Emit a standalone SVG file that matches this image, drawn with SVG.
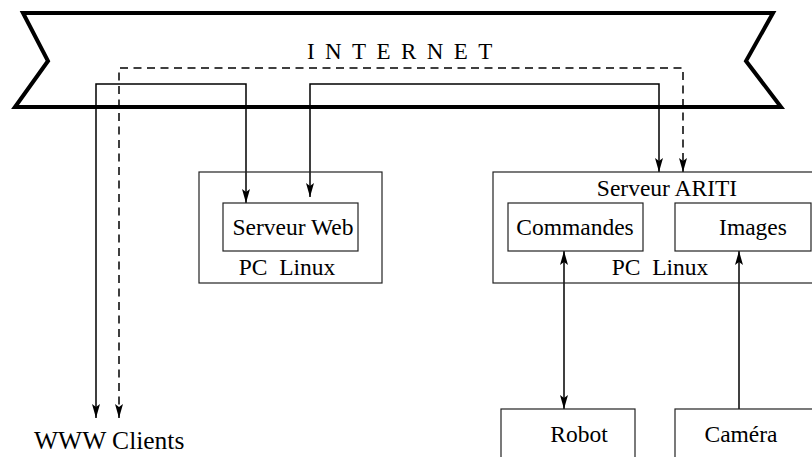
<svg xmlns="http://www.w3.org/2000/svg" width="812" height="457" viewBox="0 0 812 457">
<style>
text{font-family:"Liberation Serif","Times New Roman",serif;fill:#000}
.box{fill:none;stroke:#222;stroke-width:1.2}
.lbl{font-size:23.5px;text-anchor:middle}
.c{fill:none;stroke:#000;stroke-width:1.5}
.d{stroke-dasharray:8,5.5}
</style>
<defs>
<marker id="ah" viewBox="0 0 14 8" refX="14" refY="4" markerWidth="14" markerHeight="8" markerUnits="userSpaceOnUse" orient="auto-start-reverse">
<path d="M0,0 L14,4 L0,8 L3,4 z" fill="#000"/>
</marker>
</defs>
<g id="internet">
<path d="M23,13 L773,13 L746,61 L781,107 L15,107 L48,61 Z" fill="#fff" stroke="#000" stroke-width="4" stroke-linejoin="miter"/>
<text x="307" y="59" style="font-size:23px;letter-spacing:10.4px">INTERNET</text>
</g>
<g id="connectors">
<path class="c d" d="M119,418 L119,68 L683,68 L683,172" marker-start="url(#ah)" marker-end="url(#ah)"/>
<path class="c" d="M96,418 L96,84 L246,84 L246,203" marker-start="url(#ah)" marker-end="url(#ah)"/>
<path class="c" d="M310,197 L310,84 L659,84 L659,172" marker-start="url(#ah)" marker-end="url(#ah)"/>
<path class="c" d="M564,251 L564,409" marker-start="url(#ah)" marker-end="url(#ah)"/>
<path class="c" d="M739,409 L739,251" marker-end="url(#ah)"/>
</g>
<g id="pc-web">
<rect class="box" x="199" y="172" width="183" height="111"/>
<text class="lbl" x="287" y="275" xml:space="preserve">PC  Linux</text>
</g>
<g id="serveur-web">
<rect class="box" x="223" y="203" width="135" height="48"/>
<text class="lbl" x="293" y="235">Serveur Web</text>
</g>
<g id="serveur-ariti">
<rect class="box" x="493" y="172" width="330" height="111"/>
<text class="lbl" x="667" y="196">Serveur ARITI</text>
<text class="lbl" x="660" y="275" xml:space="preserve">PC  Linux</text>
</g>
<g id="commandes">
<rect class="box" x="508" y="203" width="135" height="48"/>
<text class="lbl" x="575" y="235">Commandes</text>
</g>
<g id="images">
<rect class="box" x="675" y="203" width="136" height="48"/>
<text class="lbl" x="753" y="235">Images</text>
</g>
<g id="robot">
<rect class="box" x="501" y="409" width="134" height="60"/>
<text class="lbl" x="579" y="442">Robot</text>
</g>
<g id="camera">
<rect class="box" x="675" y="409" width="150" height="60"/>
<text class="lbl" x="741" y="442">Caméra</text>
</g>
<g id="www-clients">
<text x="34" y="449" style="font-size:25.5px">WWW Clients</text>
</g>
</svg>
